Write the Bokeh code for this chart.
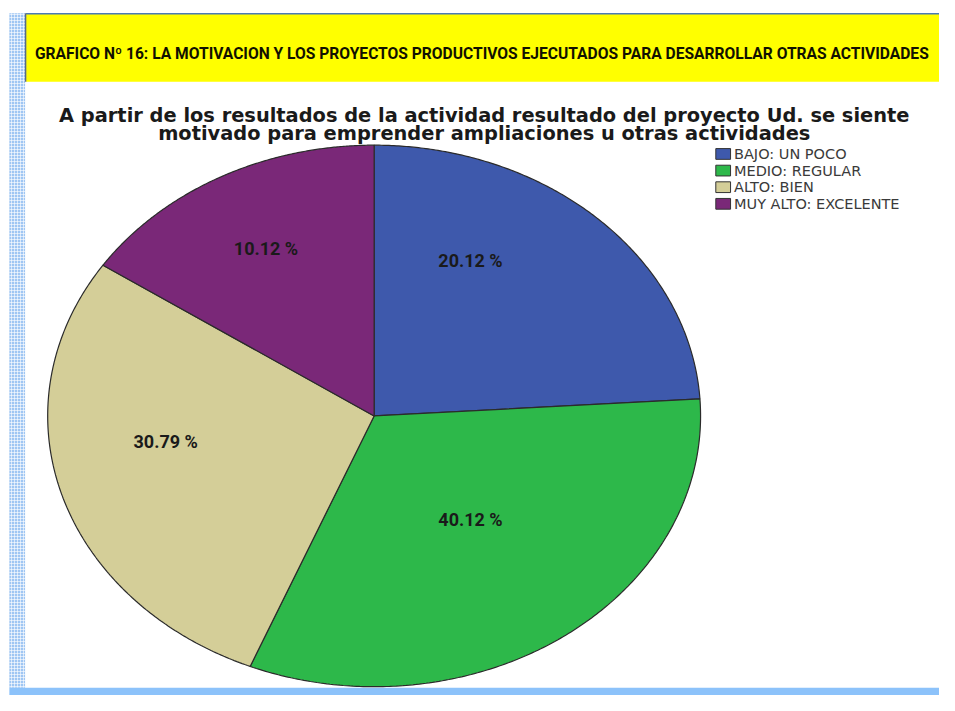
import numpy as np
from bokeh.plotting import figure
from bokeh.models import Range1d, ColumnDataSource
from bokeh.core.properties import value
from bokeh.embed import file_html
from bokeh.resources import INLINE

# ---------------- data ----------------
categories = ["BAJO: UN POCO", "MEDIO: REGULAR", "ALTO: BIEN", "MUY ALTO: EXCELENTE"]
shares = [24.0, 32.2, 28.2, 15.6]            # slice sizes as drawn (%)
label_texts = ["20.12 %", "40.12 %", "30.79 %", "10.12 %"]   # printed labels
colors = ["#3e59ac", "#2db84a", "#d4ce98", "#7a2878"]

banner_title = ("GRAFICO Nº 16:  LA MOTIVACION  Y LOS PROYECTOS PRODUCTIVOS "
                "EJECUTADOS PARA DESARROLLAR OTRAS ACTIVIDADES")
chart_title = ["A partir de los resultados de la actividad resultado del proyecto Ud. se siente",
               "motivado para emprender ampliaciones u otras actividades"]

# ---------------- layout (reference-page units 955 x 711, drawn into 939 x 695 px) ----------------
W, H = 939, 695
REF_W, REF_H = 955, 711
CX, CY, RX, RY = 380, 425, 332, 277
label_x = [478, 478, 168, 270]
label_y = [266, 531, 451, 254]

p = figure(width=W, height=H, x_range=Range1d(0, REF_W), y_range=Range1d(REF_H, 0),
           output_backend="svg", toolbar_location=None, min_border=0)
p.axis.visible = False
p.grid.visible = False
p.outline_line_color = None
p.background_fill_color = "white"
p.border_fill_color = "white"

# decorations
p.quad(left=9, right=25, top=13, bottom=703, fill_color="#9fc6f3", line_color=None,
       hatch_pattern="cross", hatch_color="white", hatch_scale=3, hatch_weight=1, hatch_alpha=0.6)
p.quad(left=26, right=REF_W, top=13, bottom=83, fill_color="#ffff00", line_color=None)
p.segment(x0=[26], y0=[13.5], x1=[REF_W], y1=[13.5], line_color="#4a7ab5", line_width=1.5)
p.segment(x0=[25.5], y0=[13], x1=[25.5], y1=[83], line_color="#5a6a80", line_width=1.5)
p.quad(left=9, right=REF_W, top=703, bottom=REF_H, fill_color="#8cc2fa", line_color=None)

# banner & chart titles
p.text(x=[35], y=[55], text=[banner_title], text_font=value("Roboto"), text_font_style="bold",
       text_font_size="15.6px", text_color="#111100", text_baseline="alphabetic", text_align="left")
p.text(x=[492, 492], y=[118, 136], text=chart_title, text_font=value("DejaVu Sans"),
       text_font_style="bold", text_font_size="19.4px", text_color="#1a1a1a",
       text_baseline="alphabetic", text_align="center")

# pie (elliptical) slices
bounds = np.concatenate([[0.0], np.cumsum(shares)]) / np.sum(shares) * 2 * np.pi
xs, ys = [], []
for a0, a1 in zip(bounds[:-1], bounds[1:]):
    t = np.linspace(a0, a1, 200)
    xs.append(np.concatenate([[CX], CX + RX * np.sin(t), [CX]]))
    ys.append(np.concatenate([[CY], CY - RY * np.cos(t), [CY]]))
src = ColumnDataSource(dict(xs=xs, ys=ys, color=colors, cat=categories))
p.patches("xs", "ys", source=src, fill_color="color", line_color="#2b2b2b", line_width=1.2)

# slice labels
p.text(x=label_x, y=label_y, text=label_texts, text_font=value("Roboto"), text_font_style="bold",
       text_font_size="18px", text_color="#1a1a1a", text_baseline="middle", text_align="center")

# legend
n = len(categories)
leg_y = [157 + 17 * i for i in range(n)]
p.rect(x=[735] * n, y=leg_y, width=15, height=11, fill_color=colors, line_color="#333333",
       line_width=1)
p.text(x=[746] * n, y=leg_y, text=categories, text_font=value("DejaVu Sans"),
       text_font_size="14.5px", text_color="#3a3a3a", text_baseline="middle", text_align="left")

open("out.html", "w").write(file_html(p, INLINE))
